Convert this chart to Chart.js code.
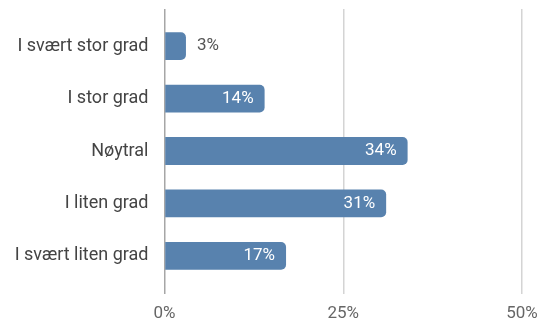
<!DOCTYPE html>
<html>
<head>
    <meta charset="utf-8">
    <script src="https://cdn.jsdelivr.net/npm/chart.js"></script>
    <style>
        body { margin: 0; background: #fff; }
        .wrap { width: 542px; height: 322px; position: relative; }
    </style>
</head>
<body>
    <div class="wrap"><canvas id="chart"></canvas></div>
    <script>
        const categories = ['I svært stor grad', 'I stor grad', 'Nøytral', 'I liten grad', 'I svært liten grad'];
        const values = [3, 14, 34, 31, 17];
        const xTicks = [0, 25, 50];

        const FONT = 'Roboto, "Liberation Sans", sans-serif';

        // value labels: inside the bar (white) or just outside when the bar is short
        const barLabels = {
            id: 'barLabels',
            afterDatasetsDraw(chart) {
                const ctx = chart.ctx;
                const meta = chart.getDatasetMeta(0);
                ctx.save();
                ctx.font = '17px ' + FONT;
                ctx.textBaseline = 'middle';
                meta.data.forEach((bar, i) => {
                    const txt = values[i] + '%';
                    const w = ctx.measureText(txt).width;
                    if (bar.x - bar.base < w + 22) {
                        ctx.fillStyle = '#555';
                        ctx.textAlign = 'left';
                        ctx.fillText(txt, bar.x + 11, bar.y);
                    } else {
                        ctx.fillStyle = '#fff';
                        ctx.textAlign = 'right';
                        ctx.fillText(txt, bar.x - 11, bar.y);
                    }
                });
                ctx.restore();
            }
        };

        const gridColor = c => (c.tick && c.tick.value === 0) ? '#a6a6a6' : '#d4d4d4';

        new Chart(document.getElementById('chart'), {
            type: 'bar',
            data: {
                labels: categories,
                datasets: [{
                    data: values,
                    backgroundColor: '#5882ae',
                    borderRadius: 5,
                    borderSkipped: 'start',
                    barPercentage: 0.53,
                    categoryPercentage: 1
                }]
            },
            plugins: [barLabels],
            options: {
                indexAxis: 'y',
                responsive: true,
                maintainAspectRatio: false,
                animation: false,
                layout: { padding: { top: 9, right: 20, bottom: 0, left: 0 } },
                plugins: {
                    legend: { display: false },
                    tooltip: { enabled: false }
                },
                scales: {
                    x: {
                        min: xTicks[0],
                        max: xTicks[xTicks.length - 1],
                        afterBuildTicks: s => { s.ticks = xTicks.map(v => ({ value: v })); },
                        afterFit: s => { s.height = 40; s.paddingLeft = 0; s.paddingRight = 0; },
                        grid: { color: gridColor, lineWidth: 1.5, tickLength: 12 },
                        border: { display: false },
                        ticks: {
                            padding: 10,
                            color: '#666',
                            font: { family: FONT, size: 17 },
                            callback: v => v + '%'
                        }
                    },
                    x2: {
                        position: 'top',
                        min: xTicks[0],
                        max: xTicks[xTicks.length - 1],
                        afterBuildTicks: s => { s.ticks = xTicks.map(v => ({ value: v })); },
                        afterFit: s => { s.height = 11; s.paddingLeft = 0; s.paddingRight = 0; },
                        grid: { color: gridColor, lineWidth: 1.5, tickLength: 11, drawOnChartArea: false },
                        border: { display: false },
                        ticks: { display: false }
                    },
                    y: {
                        afterFit: s => { s.width = 164.5; },
                        grid: { display: false },
                        border: { display: false },
                        ticks: {
                            padding: 8,
                            color: '#444',
                            font: { family: FONT, size: 18 }
                        }
                    }
                }
            }
        });
    </script>
</body>
</html>
